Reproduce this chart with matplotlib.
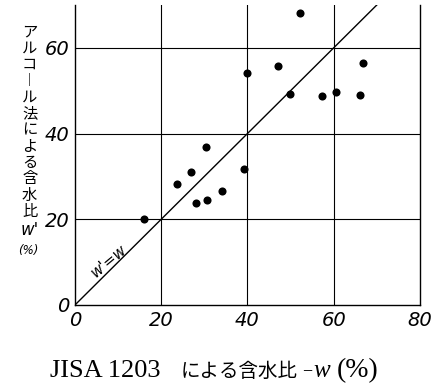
import matplotlib
matplotlib.use("Agg")
import matplotlib.pyplot as plt

jis_w = [16.0, 23.7, 26.9, 30.3, 28.1, 30.6, 34.1, 39.2, 39.8, 47.0, 49.8, 52.3, 57.4, 60.5, 66.1, 66.7]
alc_w = [20.1, 28.3, 31.0, 36.8, 23.8, 24.6, 26.6, 31.7, 54.1, 55.8, 49.2, 68.1, 48.7, 49.6, 49.1, 56.4]
xticks = [0, 20, 40, 60, 80]
yticks = [0, 20, 40, 60]
line_x = [0, 70]
line_y = [0, 70]

plt.rcParams['font.family'] = ['DejaVu Sans', 'Noto Sans CJK JP']

W, H = 436, 387
fig = plt.figure(figsize=(4.36, 3.87), dpi=100)
ax = fig.add_axes([0.172, 0.212, 0.791, 0.775])
ax.set_xlim(0, 80)
ax.set_ylim(0, 70)

for v in [20, 40, 60]:
    ax.axhline(v, color='black', lw=0.8, zorder=1)
    ax.axvline(v, color='black', lw=0.8, zorder=1)
ax.plot(line_x, line_y, color='black', lw=1.0, zorder=2)
ax.scatter(jis_w, alc_w, s=34, color='black', zorder=3, linewidths=0)

ax.spines['top'].set_visible(False)
for s in ['left', 'right', 'bottom']:
    ax.spines[s].set_linewidth(1.0)
ax.set_xticks(xticks)
ax.set_yticks(yticks)
ax.set_xticklabels([str(t) for t in xticks], fontstyle='italic', fontsize=14)
ax.set_yticklabels([str(t) for t in yticks], fontstyle='italic', fontsize=14)
ax.tick_params(length=0, pad=4)

ax.text(7.8, 10.2, "w'=w", rotation=40, fontstyle='italic', fontsize=11,
        ha='center', va='center')

ylab = "\n".join(list("アルコ︱ル法による含水比"))
fig.text(0.068, 0.94, ylab, family=['Noto Sans CJK JP', 'DejaVu Sans'],
         fontsize=11, ha='center', va='top', linespacing=0.95)
fig.text(0.068, 0.428, "w'", fontstyle='italic', fontsize=12, ha='center', va='top')
fig.text(0.066, 0.37, "(%)", fontstyle='italic', fontsize=8.5, ha='center', va='top')

ybase = 1 - 371 / H
fig.text(50 / W, ybase, "JISA 1203", family='Liberation Serif', fontsize=19,
         ha='left', va='center')
fig.text(181 / W, ybase, "による含水比", family='Noto Sans CJK JP', fontsize=14,
         ha='left', va='center')
fig.text(302 / W, ybase, "−", family='Liberation Serif', fontsize=13,
         ha='left', va='center')
fig.text(313 / W, ybase, "w", family='Liberation Serif', fontstyle='italic',
         fontsize=18, ha='left', va='center')
fig.text(337 / W, ybase, "(%)", family='Liberation Serif', fontsize=20,
         ha='left', va='center')

fig.savefig("out.png", dpi=100)
